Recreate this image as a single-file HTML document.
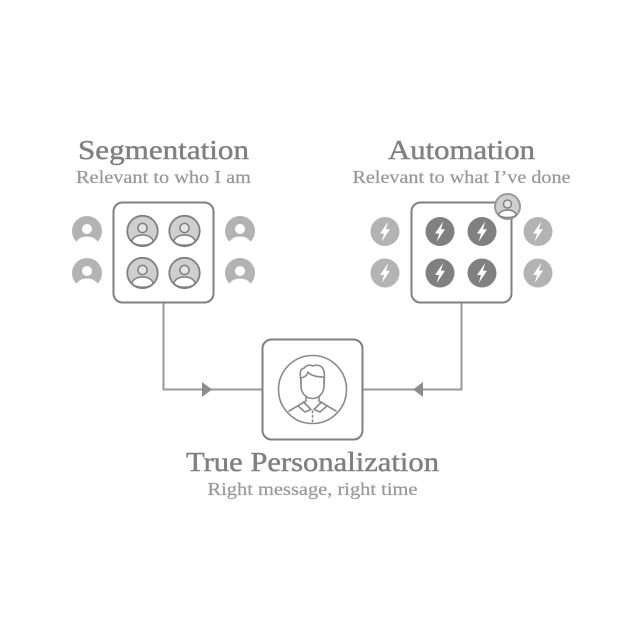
<!DOCTYPE html>
<html><head><meta charset="utf-8"><style>html,body{margin:0;padding:0;background:#fff}svg{display:block}text{font-family:"Liberation Serif",serif}</style></head><body>
<svg width="625" height="625" viewBox="0 0 625 625" xmlns="http://www.w3.org/2000/svg">
<defs>
<g id="outer"><circle r="15" fill="#b3b3b3"/><circle cy="-2" r="5" fill="#fff"/><path d="M-10.500 10.400C-8 7-4 5.500 0 5.500S8 7 10.500 10.400V16H-10.500Z" fill="#fff"/></g>
<g id="inner"><circle r="15.200" fill="#cfcfcf" stroke="#808080" stroke-width="1.800"/><circle cy="-3" r="4.600" fill="#e4e4e4" stroke="#808080" stroke-width="1.500"/><path d="M-10.800 10C-8.500 5-4 4 0 4S8.500 5 10.800 10C7 15.500-7 15.500-10.800 10Z" fill="#fff" stroke="#808080" stroke-width="1.500"/></g>
<path id="b" d="M3.200-10-5 2H-1L-3.200 10 5-2.200H1Z" fill="#fff"/>
<g id="boltL"><circle r="14.500" fill="#b3b3b3"/><use href="#b"/></g>
<g id="boltD"><circle r="14.500" fill="#808080"/><use href="#b"/></g>
</defs>
<g fill="none" stroke="#999" stroke-width="2"><path d="M163.500 302V389.500H262"/><path d="M461.500 302V389.500H363"/></g>
<path d="M202 382 212 389.500 202 397Z" fill="#8c8c8c"/><path d="M423 382 413 389.500 423 397Z" fill="#8c8c8c"/>
<g fill="#fff" stroke="#808080" stroke-width="2"><rect x="113.500" y="202.500" width="100" height="100" rx="9"/><rect x="411.500" y="202.500" width="100" height="100" rx="9"/><rect x="262.500" y="339.500" width="100" height="100" rx="9"/></g>
<use href="#outer" x="87" y="231"/><use href="#outer" x="87" y="273"/><use href="#outer" x="240" y="231"/><use href="#outer" x="240" y="273"/>
<use href="#inner" x="142.500" y="231"/><use href="#inner" x="184.500" y="231"/><use href="#inner" x="142.500" y="273"/><use href="#inner" x="184.500" y="273"/>
<use href="#boltL" x="385" y="231.500"/><use href="#boltL" x="385" y="273"/><use href="#boltL" x="538" y="231.500"/><use href="#boltL" x="538" y="273"/>
<use href="#boltD" x="440" y="231.500"/><use href="#boltD" x="482" y="231.500"/><use href="#boltD" x="440" y="273"/><use href="#boltD" x="482" y="273"/>
<g transform="translate(507.500 206.500)"><circle r="12.500" fill="#cfcfcf" stroke="#999" stroke-width="2"/><circle cy="-2.500" r="4" fill="#e4e4e4" stroke="#808080" stroke-width="1.400"/><path d="M-9 8C-7 4.500-3.500 3.500 0 3.500S7 4.500 9 8C6 12-6 12-9 8Z" fill="#fff" stroke="#808080" stroke-width="1.400"/></g>
<g fill="none" stroke="#8a8a8a" stroke-width="1.600" stroke-linejoin="round" stroke-linecap="round">
<circle cx="312.500" cy="389.500" r="34"/>
<path d="M301 378V386C301 393 306 398.500 312.500 398.500S324 393 324 386V378"/>
<path d="M301 384 300.300 375C300 370 302 368 304.500 368C306 365 310 364.500 313 366C317 364 322 366 323 369C325 372 324.500 378 324 384"/>
<path d="M301 378C305 377 307.500 375 308 372C311 376 318 377 324 377"/>
<path d="M306 396V401L289 411"/><path d="M319 396V401L336 411"/>
<path d="M303.500 402 311 409.500 305 412 298 406M321.500 402 314 409.500 320 412 327 406"/>
<path d="M312.500 411V423" stroke-dasharray="1.500 3"/>
</g>
<g text-anchor="middle">
<g fill="#808080" stroke="#808080" stroke-width=".45" font-size="27">
<text x="163.500" y="159" textLength="171" lengthAdjust="spacingAndGlyphs">Segmentation</text>
<text x="461.500" y="159" textLength="147" lengthAdjust="spacingAndGlyphs">Automation</text>
<text x="312.500" y="471" textLength="253" lengthAdjust="spacingAndGlyphs">True Personalization</text>
</g>
<g fill="#999" stroke="#999" stroke-width=".25" font-size="18">
<text x="163.500" y="183" textLength="175" lengthAdjust="spacingAndGlyphs">Relevant to who I am</text>
<text x="461.500" y="183" textLength="218" lengthAdjust="spacingAndGlyphs">Relevant to what I’ve done</text>
<text x="312.500" y="495" textLength="210" lengthAdjust="spacingAndGlyphs">Right message, right time</text>
</g>
</g>
</svg>
</body></html>
